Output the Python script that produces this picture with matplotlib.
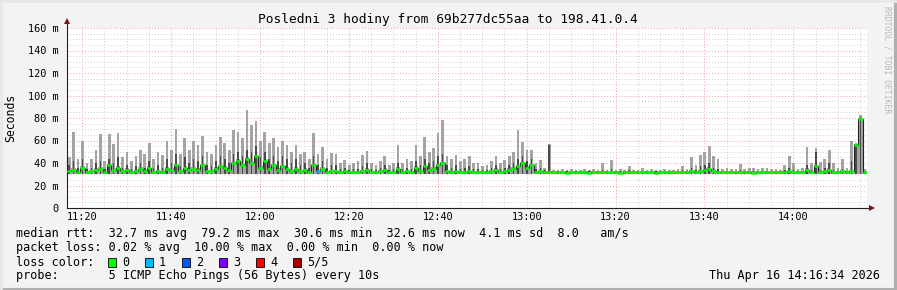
# SmokePing style latency graph, 3 hours, one value per minute
import numpy as np
import matplotlib
matplotlib.use('Agg')
import matplotlib.pyplot as plt
import matplotlib.dates as mdates
from matplotlib.patches import Rectangle
from matplotlib.lines import Line2D

plt.rcParams['font.family'] = ['DejaVu Sans Mono']

# data (ms), minute steps starting 11:16:34
start = np.datetime64('2026-04-16T11:16:34')
n_min = 180

ping_top = [
    45, 68, 44, 60, 40, 44, 52, 66, 42, 66,
    57, 67, 45, 50, 42, 46, 52, 48, 58, 44,
    50, 47, 60, 52, 70, 48, 62, 52, 60, 56,
    64, 50, 48, 56, 63, 58, 52, 69, 68, 62,
    87, 74, 77, 60, 68, 58, 62, 54, 60, 56,
    50, 56, 48, 50, 44, 67, 48, 54, 44, 49,
    48, 40, 43, 38, 40, 42, 47, 51, 40, 38,
    42, 46, 38, 40, 56, 40, 44, 42, 56, 46,
    63, 50, 53, 67, 78, 46, 44, 47, 42, 44,
    46, 40, 40, 37, 38, 42, 46, 40, 43, 46,
    50, 69, 59, 52, 52, 40, 43, 36, 57, 34,
    34, 35, 34, 35, 34, 34, 35, 34, 35, 34,
    40, 34, 43, 34, 35, 34, 37, 34, 34, 36,
    34, 35, 34, 34, 35, 34, 34, 35, 37, 35,
    45, 38, 47, 50, 55, 46, 44, 35, 36, 35,
    35, 39, 35, 36, 36, 35, 36, 36, 35, 35,
    34, 38, 46, 40, 35, 36, 54, 40, 53, 41,
    44, 52, 40, 36, 44, 36, 60, 58, 83, 35,
]

ping_upper = [
    38, 42, 36, 44, 35, 36, 40, 42, 35, 44,
    40, 45, 36, 38, 35, 37, 40, 36, 42, 36,
    38, 36, 44, 40, 48, 37, 45, 40, 44, 42,
    46, 38, 37, 42, 46, 44, 40, 48, 50, 46,
    52, 50, 55, 45, 50, 44, 46, 42, 46, 44,
    40, 44, 38, 40, 36, 46, 38, 42, 36, 38,
    38, 35, 36, 34, 35, 35, 37, 40, 35, 34,
    36, 38, 34, 35, 40, 35, 36, 35, 42, 38,
    44, 40, 42, 46, 48, 38, 36, 38, 35, 36,
    37, 35, 35, 34, 34, 36, 38, 35, 36, 38,
    40, 44, 46, 42, 44, 35, 36, 34, 56, 33,
    33, 33, 33, 33, 33, 33, 33, 33, 33, 33,
    34, 33, 35, 33, 33, 33, 34, 33, 33, 33,
    33, 33, 33, 33, 33, 33, 33, 33, 34, 33,
    36, 34, 37, 38, 40, 36, 35, 33, 33, 33,
    33, 34, 33, 33, 33, 33, 33, 33, 33, 33,
    33, 34, 36, 34, 33, 33, 38, 34, 50, 34,
    36, 40, 34, 33, 35, 33, 42, 57, 81, 33,
]

median_rtt = [
    33, 34, 32, 36, 32, 33, 34, 35, 32, 38,
    34, 36, 33, 34, 32, 33, 35, 33, 36, 32,
    33, 32, 35, 34, 38, 33, 36, 34, 35, 34,
    38, 33, 33, 35, 37, 36, 34, 40, 42, 38,
    44, 40, 46, 36, 42, 35, 38, 34, 37, 35,
    33, 35, 33, 34, 32, 38, 33, 35, 32, 33,
    33, 32, 33, 32, 32, 32, 33, 34, 32, 32,
    33, 34, 32, 32, 35, 32, 33, 32, 36, 33,
    37, 34, 35, 38, 40, 33, 32, 33, 32, 32,
    33, 32, 32, 32, 32, 33, 34, 32, 33, 34,
    35, 37, 40, 36, 38, 32, 33, 32, 32, 32,
    32, 32, 31.5, 32, 32, 32, 32, 31.5, 32, 32,
    32, 32, 32, 32, 31.5, 32, 32, 32, 32, 32,
    32, 32, 31.5, 32, 32, 32, 32, 32, 32, 32,
    33, 32, 33, 34, 35, 33, 32, 32, 32, 32,
    32, 32, 32, 32, 31.5, 32, 32, 32, 32, 32,
    32, 32, 33, 32, 32, 32, 34, 32, 37, 32,
    33, 34, 32, 32, 33, 32, 33, 56, 79, 32,
]

ping_min = 30.6
loss_at = [56]
loss_lvl = [1]

loss_colors = ['#00ff00', '#00b8ff', '#0059ff', '#7e00ff', '#ff0000', '#a10000']
loss_names = ['0', '1', '2', '3', '4', '5/5']

W, H = 897, 290
fig = plt.figure(figsize=(W / 100, H / 100), dpi=100, facecolor='#f3f3f3')

# plot area in pixels
x0, x1, y0, y1 = 67, 867, 28, 208
ax = fig.add_axes([x0 / W, 1 - y1 / H, (x1 - x0) / W, (y1 - y0) / H])
ax.set_facecolor('white')

edges = start + np.arange(n_min + 1) * np.timedelta64(60, 's')
xe = mdates.date2num(edges)
step = xe[1] - xe[0]
xc = xe[:-1] + step / 2
top = np.array(ping_top, float)
upp = np.array(ping_upper, float)
med = np.append(median_rtt, median_rtt[-1])

# smoke: thin spikes so white shows between them
ax.bar(xc, top - ping_min, bottom=ping_min, width=step * 0.6, color='#a4a4a4', lw=0, zorder=2)
ax.bar(xc, upp - ping_min, bottom=ping_min, width=step * 0.35, color='#4a4a4a', lw=0, zorder=3)
ax.fill_between(xe, ping_min, med + 1.2, step='post', color='#a4a4a4', lw=0, zorder=2)
ax.step(xe, med, where='post', color='#202020', lw=0.8, zorder=4)

cols = [loss_colors[0]] * n_min
for i, lv in zip(loss_at, loss_lvl):
    cols[i] = loss_colors[lv]
ax.hlines(median_rtt, xe[:-1], xe[1:], colors=cols, lw=1.8, zorder=5)

ax.set_xlim(xe[0], xe[-1])
ax.set_ylim(0, 160)

# grid
ax.xaxis.set_major_locator(mdates.MinuteLocator(byminute=[0, 20, 40]))
ax.xaxis.set_minor_locator(mdates.MinuteLocator(byminute=range(0, 60, 5)))
ax.xaxis.set_major_formatter(mdates.DateFormatter('%H:%M'))
ax.set_yticks(range(0, 161, 20))
ax.set_yticks(range(0, 161, 5), minor=True)
ax.set_yticklabels(['0'] + ['%d m' % v for v in range(20, 161, 20)])
ax.grid(which='minor', color='#d0d0d0', ls=(0, (1, 2)), lw=0.7, zorder=1)
ax.grid(which='major', color='#f0a0a0', ls=(0, (1, 2)), lw=0.7, zorder=1)
ax.set_axisbelow(True)

ax.tick_params(which='both', length=0, labelsize=7.4, colors='black')
ax.tick_params(axis='x', pad=3)
ax.tick_params(axis='y', pad=6)
for s in ['top', 'right']:
    ax.spines[s].set_visible(False)
for s in ['left', 'bottom']:
    ax.spines[s].set_color('#202020')
    ax.spines[s].set_linewidth(0.8)

# axis extensions and arrows
fig.add_artist(Line2D([x0 / W, x0 / W], [1 - y0 / H, 1 - 22 / H], color='#202020', lw=0.8))
fig.add_artist(Line2D([x1 / W, 871 / W], [1 - y1 / H, 1 - y1 / H], color='#202020', lw=0.8))
fig.add_artist(Line2D([x0 / W], [1 - 21 / H], marker='^', ms=4, color='#7f1010', mew=0))
fig.add_artist(Line2D([872 / W], [1 - y1 / H], marker='>', ms=4, color='#7f1010', mew=0))

# texts
fig.text(448 / W, 1 - 19 / H, 'Posledni 3 hodiny from 69b277dc55aa to 198.41.0.4',
         ha='center', va='center', fontsize=9.3)
fig.text(11 / W, 1 - 118 / H, 'Seconds', rotation=90, ha='center', va='center', fontsize=8.3)
fig.text(887 / W, 1 - 60 / H, 'RRDTOOL / TOBI OETIKER', rotation=270,
         ha='center', va='center', fontsize=5.8, color='#b8b8b8')

fs = 8.5
fig.text(16 / W, 1 - 234 / H,
         'median rtt:  32.7 ms avg  79.2 ms max  30.6 ms min  32.6 ms now  4.1 ms sd  8.0   am/s',
         va='center', fontsize=fs)
fig.text(16 / W, 1 - 248 / H,
         'packet loss: 0.02 % avg  10.00 % max  0.00 % min  0.00 % now',
         va='center', fontsize=fs)
fig.text(16 / W, 1 - 262 / H, 'loss color:', va='center', fontsize=fs)
for k, (c, name) in enumerate(zip(loss_colors, loss_names)):
    sx = 108 + 37 * k
    fig.add_artist(Rectangle((sx / W, 1 - 266.5 / H), 8 / W, 9 / H, transform=fig.transFigure,
                             facecolor=c, edgecolor='black', lw=0.6))
    fig.text((sx + 14) / W, 1 - 262 / H, name, va='center', fontsize=fs)
fig.text(16 / W, 1 - 276 / H, 'probe:       5 ICMP Echo Pings (56 Bytes) every 10s',
         va='center', fontsize=fs)
fig.text(880 / W, 1 - 276 / H, 'Thu Apr 16 14:16:34 2026', ha='right', va='center', fontsize=fs)

# frame of the image
fig.add_artist(Line2D([0, 1], [0.5 / H, 0.5 / H], color='#b0b0b0', lw=3))
fig.add_artist(Line2D([1 - 1 / W, 1 - 1 / W], [0, 1], color='#b0b0b0', lw=3))
fig.add_artist(Line2D([0, 1], [1 - 1 / H, 1 - 1 / H], color='#e8e8e8', lw=2))
fig.add_artist(Line2D([1 / W, 1 / W], [0, 1], color='#e8e8e8', lw=2))

fig.savefig('out.png', dpi=100, facecolor=fig.get_facecolor())
